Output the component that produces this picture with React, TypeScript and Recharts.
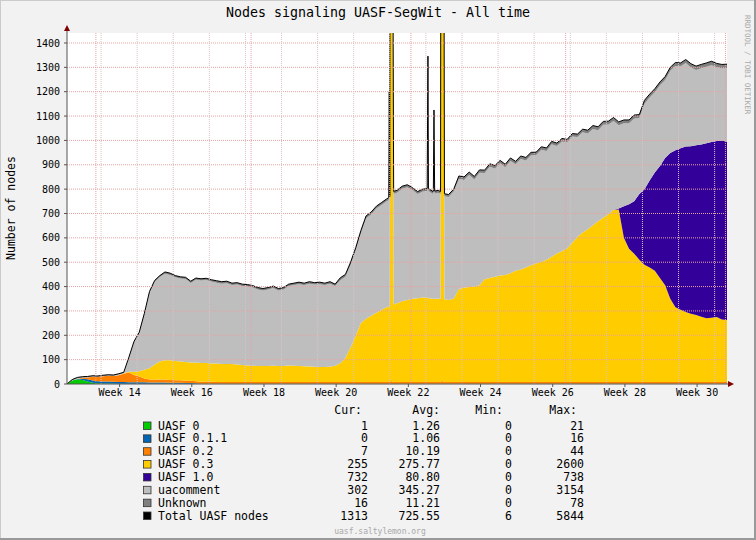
import React from "react";
import { Area, AreaChart, CartesianGrid, ReferenceLine, XAxis, YAxis } from "recharts";

// one sample per day, day 0 = left edge of the graph
const days = Array.from({ length: 129 }, (_, i) => i);

const uasf0 = [
  0, 14, 19, 16, 10, 5, 3, 2, 2, 2,
  1, 1, 1, 1, 1, 1, 1, 1, 1, 1,
  1, 1, 1, 1, 1, 1, 1, 1, 1, 1,
  1, 1, 1, 1, 1, 1, 1, 1, 1, 1,
  1, 1, 1, 1, 1, 1, 1, 1, 1, 1,
  1, 1, 1, 1, 1, 1, 1, 1, 1, 1,
  1, 1, 1, 1, 1, 1, 1, 1, 1, 1,
  1, 1, 1, 1, 1, 1, 1, 1, 1, 1,
  1, 1, 1, 1, 1, 1, 1, 1, 1, 1,
  1, 1, 1, 1, 1, 1, 1, 1, 1, 1,
  1, 1, 1, 1, 1, 1, 1, 1, 1, 1,
  1, 1, 1, 1, 1, 1, 1, 1, 1, 1,
  1, 1, 1, 1, 1, 1, 1, 1, 1,
];

const uasf011 = [
  0, 0, 2, 6, 9, 9, 8, 8, 8, 7,
  7, 7, 6, 6, 6, 6, 5, 5, 5, 5,
  4, 4, 4, 3, 3, 2, 0, 0, 0, 0,
  0, 0, 0, 0, 0, 0, 0, 0, 0, 0,
  0, 0, 0, 0, 0, 0, 0, 0, 0, 0,
  0, 0, 0, 0, 0, 0, 0, 0, 0, 0,
  0, 0, 0, 0, 0, 0, 0, 0, 0, 0,
  0, 0, 0, 0, 0, 0, 0, 0, 0, 0,
  0, 0, 0, 0, 0, 0, 0, 0, 0, 0,
  0, 0, 0, 0, 0, 0, 0, 0, 0, 0,
  0, 0, 0, 0, 0, 0, 0, 0, 0, 0,
  0, 0, 0, 0, 0, 0, 0, 0, 0, 0,
  0, 0, 0, 0, 0, 0, 0, 0, 0,
];

const uasf02 = [
  0, 0, 0, 4, 8, 16, 19, 22, 24, 24,
  28, 34, 40, 30, 24, 16, 12, 11, 12, 12,
  11, 10, 10, 9, 9, 8, 8, 8, 8, 7,
  7, 7, 7, 7, 7, 7, 7, 7, 7, 7,
  7, 7, 7, 7, 7, 7, 7, 7, 7, 7,
  7, 7, 7, 7, 7, 7, 7, 7, 7, 7,
  7, 7, 7, 10, 7, 7, 7, 7, 7, 7,
  7, 7, 7, 10, 7, 7, 7, 7, 7, 7,
  7, 7, 7, 7, 7, 7, 7, 7, 7, 7,
  7, 7, 7, 7, 7, 7, 7, 7, 7, 7,
  7, 7, 7, 7, 7, 7, 7, 7, 7, 7,
  7, 7, 7, 7, 7, 7, 7, 7, 7, 7,
  7, 7, 7, 7, 7, 7, 7, 7, 7,
];

const uasf03 = [
  0, 0, 0, 0, 0, 0, 0, 0, 0, 0,
  0, 2, 3, 13, 21, 35, 47, 63, 74, 80,
  82, 79, 77, 77, 75, 77, 77, 77, 75, 76,
  74, 74, 74, 72, 70, 68, 67, 66, 66, 66,
  67, 66, 66, 68, 67, 66, 65, 64, 63, 62,
  62, 63, 67, 77, 100, 142, 192, 242, 260, 272,
  284, 297, 307, 2600, 324, 332, 337, 342, 344, 347,
  344, 342, 342, 2600, 337, 342, 382, 387, 390, 392,
  397, 422, 427, 432, 437, 440, 447, 457, 462, 470,
  480, 487, 494, 502, 514, 528, 537, 549, 572, 597,
  614, 627, 644, 660, 675, 690, 706, 708, 592, 547,
  527, 502, 482, 470, 457, 427, 397, 342, 307, 297,
  288, 280, 275, 268, 262, 264, 267, 257, 255,
];

const uasf10 = [
  0, 0, 0, 0, 0, 0, 0, 0, 0, 0,
  0, 0, 0, 0, 0, 0, 0, 0, 0, 0,
  0, 0, 0, 0, 0, 0, 0, 0, 0, 0,
  0, 0, 0, 0, 0, 0, 0, 0, 0, 0,
  0, 0, 0, 0, 0, 0, 0, 0, 0, 0,
  0, 0, 0, 0, 0, 0, 0, 0, 0, 0,
  0, 0, 0, 0, 0, 0, 0, 0, 0, 0,
  0, 0, 0, 0, 0, 0, 0, 0, 0, 0,
  0, 0, 0, 0, 0, 0, 0, 0, 0, 0,
  0, 0, 0, 0, 0, 0, 0, 0, 0, 0,
  0, 0, 0, 0, 0, 0, 0, 4, 130, 183,
  215, 270, 310, 357, 403, 460, 523, 598, 645, 663,
  679, 688, 697, 707, 718, 722, 723, 735, 732,
];

const uacomment = [
  0, 2, 3, 1, 1, 1, 0, 1, 1, 1,
  3, 1, 56, 120, 155, 226, 309, 339, 347, 355,
  350, 344, 341, 341, 327, 340, 339, 341, 337, 332,
  330, 332, 324, 328, 324, 324, 321, 314, 310, 314,
  319, 310, 314, 326, 331, 336, 333, 340, 337, 340,
  336, 341, 327, 341, 332, 340, 350, 370, 412, 416,
  428, 430, 435, 455, 453, 462, 463, 446, 428, 435,
  984, 430, 435, 422, 423, 440, 452, 443, 460, 440,
  462, 436, 457, 445, 461, 442, 461, 437, 454, 440,
  451, 445, 460, 447, 462, 441, 451, 435, 436, 409,
  412, 393, 395, 374, 381, 367, 366, 342, 340, 332,
  340, 312, 351, 341, 330, 331, 320, 338, 346, 336,
  343, 323, 309, 313, 314, 315, 302, 296, 302,
];

const unknown = [
  0, 2, 3, 3, 3, 3, 3, 3, 3, 3,
  3, 3, 4, 5, 5, 6, 6, 6, 6, 7,
  7, 7, 7, 7, 7, 7, 7, 7, 7, 8,
  8, 8, 8, 8, 8, 8, 8, 8, 8, 8,
  8, 8, 8, 8, 8, 8, 8, 8, 8, 8,
  8, 8, 8, 10, 10, 10, 10, 10, 10, 10,
  10, 10, 10, 10, 10, 10, 10, 10, 10, 10,
  10, 10, 10, 10, 10, 10, 12, 12, 12, 12,
  12, 12, 12, 12, 12, 12, 12, 12, 12, 12,
  12, 12, 12, 12, 12, 12, 12, 12, 12, 12,
  12, 14, 14, 14, 14, 14, 14, 14, 14, 14,
  14, 14, 14, 14, 14, 14, 14, 14, 14, 14,
  14, 16, 16, 16, 16, 16, 16, 16, 16,
];

// short-lived samples between the daily points (the spikes in week 22)
const spikeDays = [62.4, 62.5, 62.6, 62.7, 63.35, 69.85, 70.1, 71.05, 71.17, 71.3, 72.45, 72.55, 73.2];
const spikeUasf0 = [1, 1, 1, 1, 1, 1, 1, 1, 1, 1, 1, 1, 1];
const spikeUasf011 = [0, 0, 0, 0, 0, 0, 0, 0, 0, 0, 0, 0, 0];
const spikeUasf02 = [7, 7, 7, 10, 7, 7, 7, 7, 7, 7, 7, 10, 7];
const spikeUasf03 = [310, 310, 312, 2600, 318, 347, 344, 342, 342, 342, 342, 2600, 340];
const spikeUasf10 = [0, 0, 0, 0, 0, 0, 0, 0, 0, 0, 0, 0, 0];
const spikeUacomment = [437, 872, 440, 445, 455, 437, 440, 432, 765, 432, 430, 430, 423];
const spikeUnknown = [10, 10, 10, 10, 10, 10, 10, 10, 10, 10, 10, 10, 10];

const yTicks = [0, 100, 200, 300, 400, 500, 600, 700, 800, 900, 1000, 1100, 1200, 1300, 1400];
const weekTickDays = [10.2, 24.2, 38.2, 52.2, 66.2, 80.2, 94.2, 108.2, 122.2];
const weekLabels = ["Week 14", "Week 16", "Week 18", "Week 20", "Week 22", "Week 24", "Week 26", "Week 28", "Week 30"];
const weekLines = [6.6, 13.6, 20.6, 27.6, 34.6, 41.6, 48.6, 55.6, 62.6, 69.6, 76.6, 83.6, 90.6, 97.6, 104.6, 111.6, 118.6, 125.6];
const monthLines = [5.6, 35.7, 66.7, 96.7, 127.7];

const legendNames = ["UASF 0", "UASF 0.1.1", "UASF 0.2", "UASF 0.3", "UASF 1.0", "uacomment", "Unknown", "Total UASF nodes"];
const legendColors = ["#00cc00", "#0066b3", "#ff8000", "#ffcc00", "#330099", "#bebebe", "#808080", "#000000"];
const curValues = ["1", "0", "7", "255", "732", "302", "16", "1313"];
const avgValues = ["1.26", "1.06", "10.19", "275.77", "80.80", "345.27", "11.21", "725.55"];
const minValues = ["0", "0", "0", "0", "0", "0", "0", "6"];
const maxValues = ["21", "16", "44", "2600", "738", "3154", "78", "5844"];

const data = [
  ...days.map((d, i) => ({
    day: d,
    uasf0: uasf0[i],
    uasf011: uasf011[i],
    uasf02: uasf02[i],
    uasf03: uasf03[i],
    uasf10: uasf10[i],
    uacomment: uacomment[i],
    unknown: unknown[i],
  })),
  ...spikeDays.map((d, i) => ({
    day: d,
    uasf0: spikeUasf0[i],
    uasf011: spikeUasf011[i],
    uasf02: spikeUasf02[i],
    uasf03: spikeUasf03[i],
    uasf10: spikeUasf10[i],
    uacomment: spikeUacomment[i],
    unknown: spikeUnknown[i],
  })),
].sort((a, b) => a.day - b.day);

const FONT = "'DejaVu Sans Mono', monospace";

function App() {
  return (
    <div style={{ position: "absolute", left: 0, top: 0, width: 756, height: 540, background: "#f2f2f2", fontFamily: FONT }}>
      <AreaChart width={756} height={540} data={data} margin={{ top: 33, right: 29, bottom: 136, left: 0 }}>
        <CartesianGrid fill="#ffffff" horizontal={false} vertical={false} />
        <XAxis
          dataKey="day"
          type="number"
          domain={[0, 128]}
          ticks={weekTickDays}
          interval={0}
          height={20}
          tickSize={3}
          tickMargin={2}
          tickFormatter={(v) => weekLabels[weekTickDays.indexOf(v)] ?? ""}
          tick={{ fontSize: 10, fontFamily: FONT, fill: "#000" }}
          axisLine={{ stroke: "#555" }}
          tickLine={{ stroke: "#555" }}
        />
        <YAxis
          width={67}
          domain={[0, 1441]}
          ticks={yTicks}
          allowDataOverflow
          interval={0}
          tickSize={3}
          tickMargin={4}
          tick={{ fontSize: 10, fontFamily: FONT, fill: "#000" }}
          axisLine={{ stroke: "#555" }}
          tickLine={{ stroke: "#555" }}
        />

        <Area type="linear" dataKey="uasf0" stackId="n" fill="#00cc00" fillOpacity={1} stroke="none" isAnimationActive={false} />
        <Area type="linear" dataKey="uasf011" stackId="n" fill="#0066b3" fillOpacity={1} stroke="none" isAnimationActive={false} />
        <Area type="linear" dataKey="uasf02" stackId="n" fill="#ff8000" fillOpacity={1} stroke="none" isAnimationActive={false} />
        <Area type="linear" dataKey="uasf03" stackId="n" fill="#ffcc00" fillOpacity={1} stroke="none" isAnimationActive={false} />
        <Area type="linear" dataKey="uasf10" stackId="n" fill="#330099" fillOpacity={1} stroke="none" isAnimationActive={false} />
        <Area type="linear" dataKey="uacomment" stackId="n" fill="#bebebe" fillOpacity={1} stroke="none" isAnimationActive={false} />
        {/* top of the stack = total, so its outline is the black total line */}
        <Area type="linear" dataKey="unknown" stackId="n" fill="#808080" fillOpacity={1} stroke="#000" strokeWidth={1} isAnimationActive={false} />

        {yTicks.slice(1).map((v) => (
          <ReferenceLine key={"h" + v} y={v} stroke="#e8a2a2" strokeOpacity={1} strokeDasharray="1 1" />
        ))}
        {weekLines.map((v) => (
          <ReferenceLine key={"w" + v} x={v} stroke="#d8c4c4" strokeOpacity={1} strokeDasharray="1 1" />
        ))}
        {monthLines.map((v) => (
          <ReferenceLine key={"m" + v} x={v} stroke="#e8a2a2" strokeOpacity={1} strokeDasharray="1 1" />
        ))}
      </AreaChart>

      <svg width={756} height={540} style={{ position: "absolute", left: 0, top: 0, pointerEvents: "none" }}>
        <text x={378} y={17} textAnchor="middle" fontSize={13.3} fontFamily={FONT} fill="#000">
          Nodes signaling UASF-SegWit - All time
        </text>
        <text transform="translate(15,208) rotate(-90)" textAnchor="middle" fontSize={11.5} fontFamily={FONT} fill="#000">
          Number of nodes
        </text>
        <text transform="translate(745,15) rotate(90)" fontSize={7.5} fontFamily={FONT} fill="#a8a8a8">
          RRDTOOL / TOBI OETIKER
        </text>

        {/* axis arrows */}
        <line x1={67} y1={33} x2={67} y2={28} stroke="#555" />
        <polygon points="64,31 70,31 67,25" fill="#7f0000" />
        <line x1={727} y1={384} x2={731} y2={384} stroke="#555" />
        <polygon points="728,381 728,387 734,384" fill="#7f0000" />

        {/* legend */}
        <g fontFamily={FONT} fontSize={11.5} fill="#000">
          <text x={362} y={414} textAnchor="end">Cur:</text>
          <text x={440} y={414} textAnchor="end">Avg:</text>
          <text x={503} y={414} textAnchor="end">Min:</text>
          <text x={577} y={414} textAnchor="end">Max:</text>
          {legendNames.map((name, i) => {
            const y = 429.5 + i * 12.86;
            return (
              <g key={name}>
                <rect x={143.5} y={y - 7.5} width={7.5} height={7.5} fill={legendColors[i]} stroke="#333" strokeWidth={0.8} />
                <text x={158} y={y}>{name}</text>
                <text x={368} y={y} textAnchor="end">{curValues[i]}</text>
                <text x={440} y={y} textAnchor="end">{avgValues[i]}</text>
                <text x={512} y={y} textAnchor="end">{minValues[i]}</text>
                <text x={584} y={y} textAnchor="end">{maxValues[i]}</text>
              </g>
            );
          })}
        </g>
        <text x={380} y={534} textAnchor="middle" fontSize={8} fontFamily={FONT} fill="#a8a8a8">
          uasf.saltylemon.org
        </text>

        {/* frame */}
        <line x1={0} y1={0.5} x2={756} y2={0.5} stroke="#cbcbcb" />
        <line x1={0.5} y1={0} x2={0.5} y2={540} stroke="#cbcbcb" />
        <line x1={0} y1={539} x2={756} y2={539} stroke="#999" strokeWidth={2} />
        <line x1={755} y1={0} x2={755} y2={540} stroke="#999" strokeWidth={2} />
      </svg>
    </div>
  );
}

export default App;
